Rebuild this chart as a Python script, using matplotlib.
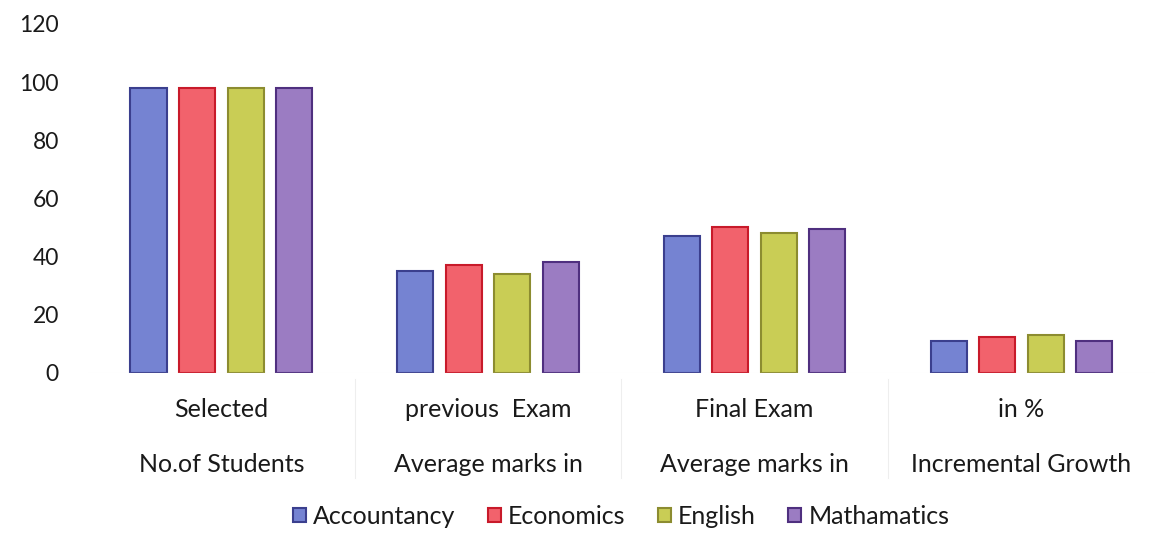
import numpy as np
import matplotlib
matplotlib.use('Agg')
from matplotlib import pyplot as plt

plt.rcParams['font.family'] = ['Lato', 'DejaVu Sans']

categories = ['Selected\nNo.of Students', 'previous  Exam\nAverage marks in',
              'Final Exam\nAverage marks in', 'in %\nIncremental Growth']
subjects = ['Accountancy', 'Economics', 'English', 'Mathamatics']
accountancy = [98, 35, 47, 11]
economics = [98, 37, 50, 12.5]
english = [98, 34, 48, 13]
mathamatics = [98, 38, 49.5, 11]

faces = ['#7583d2', '#f2626c', '#c9cd55', '#9b7cc2']
edges = ['#3b3f8e', '#c81a2a', '#8c8c30', '#4f2f7f']

fig = plt.figure(figsize=(11.62, 5.42), dpi=100)
ax = fig.add_axes([0.0757, 0.312, 0.918, 0.644])

x = np.arange(len(categories))
width = 0.135
step = 0.182
series = [accountancy, economics, english, mathamatics]
for i, vals in enumerate(series):
    ax.bar(x + (i - 1.5) * step, vals, width, color=faces[i], edgecolor=edges[i],
           linewidth=1.5, label=subjects[i])

ax.set_xlim(-0.5, len(categories) - 0.5)
ax.set_ylim(0, 120)
ax.set_yticks(range(0, 121, 20))
ax.tick_params(axis='y', length=0, labelsize=16.5, pad=21, colors='#1a1a1a')
ax.tick_params(axis='x', length=0)
ax.set_xticks(x)
ax.set_xticklabels([])
for i, c in enumerate(categories):
    top, bottom = c.split('\n')
    ax.text(i, -12.5, top, ha='center', va='center', fontsize=18, color='#1a1a1a')
    ax.text(i, -31.5, bottom, ha='center', va='center', fontsize=18, color='#1a1a1a')
for xs in [0.5, 1.5, 2.5]:
    ax.plot([xs, xs], [-2, -36], color='#eeeeee', linewidth=0.8, clip_on=False)
for s in ax.spines.values():
    s.set_visible(False)
ax.axhline(0, color='#f0f0f0', linewidth=0.8)

ax.legend(loc='center', bbox_to_anchor=(0.5, -0.41), ncol=4, frameon=False,
          fontsize=18, handlelength=0.5, handleheight=0.5, handletextpad=0.3,
          columnspacing=1.3, labelcolor='#1a1a1a')

plt.savefig('out.png', dpi=100)
